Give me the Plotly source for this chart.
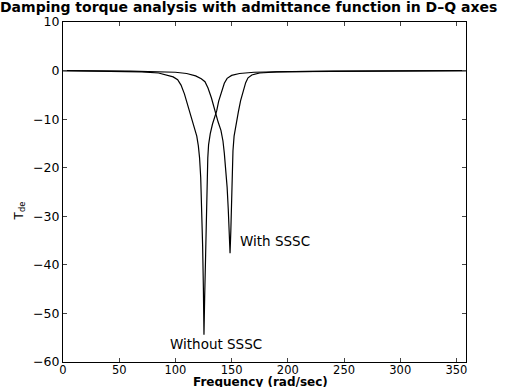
import plotly.graph_objects as go

# Frequency (rad/sec) and damping torque Tde
freq_without = [0, 40, 70, 85, 93, 98, 102, 105, 108, 111, 114, 117, 119, 120.4, 121.5, 122.5,
                123.4, 124.2, 124.9, 125.4, 126, 126.7, 127.4, 128.1, 128.8, 129.5, 131, 133,
                135, 136.7, 138.5, 141, 143.5, 146, 150, 157, 170, 200, 250, 360]
tde_without = [0, -0.1, -0.25, -0.5, -0.9, -1.3, -1.9, -3, -4.8, -7.2, -9.4, -11.5, -13.5, -15.5,
               -18, -22, -28, -36, -45, -54.4, -47, -38, -30, -23, -18, -15.3, -13, -11,
               -9.6, -8.3, -6.3, -4.2, -2.6, -1.6, -1, -0.6, -0.35, -0.2, -0.1, 0]

freq_with = [0, 60, 100, 110, 118, 123, 126.3, 129, 132, 135.2, 138, 140.5, 142.3, 143.5,
             144.8, 146, 147, 147.9, 148.6, 149.3, 150, 150.6, 151.2, 152.2, 154, 156, 158,
             160.5, 162.5, 164.6, 168, 175, 190, 240, 360]
tde_with = [0, -0.1, -0.35, -0.6, -1.1, -1.7, -2.3, -3.6, -5.6, -8.5, -10.6, -12.3, -14.5, -17,
            -20, -24, -28.5, -33.5, -37.6, -33, -26, -20, -16.5, -13.5, -10.8, -8.5, -6.2,
            -4, -2.5, -1.5, -0.9, -0.5, -0.25, -0.1, 0]

x_ticks = [0, 50, 100, 150, 200, 250, 300, 350]
y_ticks = [-60, -50, -40, -30, -20, -10, 0, 10]

title_text = "Damping torque analysis with admittance function in D\u2013Q axes"

fig = go.Figure()
fig.add_trace(go.Scatter(x=freq_without, y=tde_without, mode="lines",
                         line=dict(color="black", width=1.2), showlegend=False))
fig.add_trace(go.Scatter(x=freq_with, y=tde_with, mode="lines",
                         line=dict(color="black", width=1.2), showlegend=False))

font_main = "DejaVu Sans"

fig.update_layout(
    width=518, height=387,
    margin=dict(l=63, r=52, t=22, b=25, autoexpand=False),
    paper_bgcolor="white", plot_bgcolor="white",
    font=dict(family=font_main, size=12, color="black"),
    title=dict(text="<b>" + title_text + "</b>", x=0.0, xanchor="left", xref="container",
               y=1 - 7 / 387, yanchor="middle", yref="container",
               font=dict(family=font_main, size=14, color="black")),
    xaxis=dict(range=[0, 358.5], tickvals=x_ticks, ticks="inside", ticklen=4,
               showline=True, linecolor="black", linewidth=1, mirror="ticks",
               showgrid=False, zeroline=False, tickfont=dict(size=11.5),
               ticklabelstandoff=-3, automargin=False),
    yaxis=dict(range=[-60, 10], tickvals=y_ticks, ticks="inside", ticklen=4,
               showline=True, linecolor="black", linewidth=1, mirror="ticks",
               showgrid=False, zeroline=False, tickfont=dict(size=12.5),
               automargin=False),
    annotations=[
        dict(x=155.7, y=-35, text="With SSSC", showarrow=False, xanchor="left",
             yanchor="middle", font=dict(family=font_main, size=13.5)),
        dict(x=93.4, y=-56.3, text="Without SSSC", showarrow=False, xanchor="left",
             yanchor="middle", font=dict(family=font_main, size=13.5)),
        dict(x=0, xref="paper", xshift=-43, xanchor="center", y=-29, text="T<sub>de</sub>",
             showarrow=False, textangle=-90, font=dict(family=font_main, size=12)),
        dict(x=0.5, xref="paper", xshift=-4, y=0, yref="paper", yshift=-19.5,
             yanchor="middle", xanchor="center", text="<b>Frequency (rad/sec)</b>",
             showarrow=False, font=dict(family=font_main, size=12)),
    ],
)

fig.write_html("out.html")
